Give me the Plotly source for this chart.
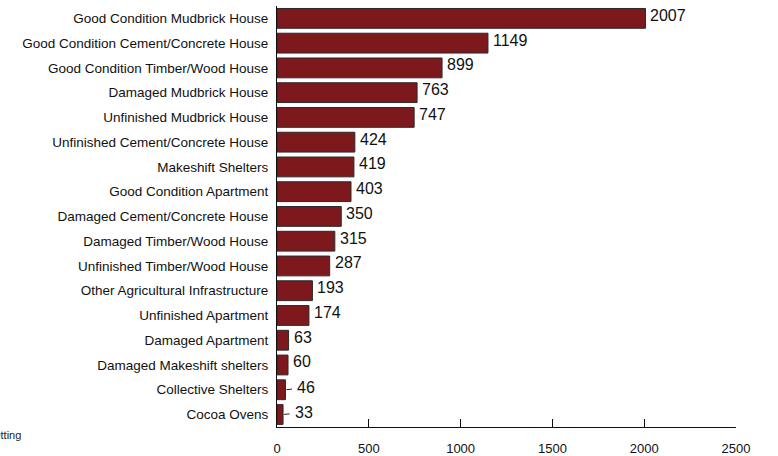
import plotly.graph_objects as go

categories = [
    "Good Condition Mudbrick House",
    "Good Condition Cement/Concrete House",
    "Good Condition Timber/Wood House",
    "Damaged Mudbrick House",
    "Unfinished Mudbrick House",
    "Unfinished Cement/Concrete House",
    "Makeshift Shelters",
    "Good Condition Apartment",
    "Damaged Cement/Concrete House",
    "Damaged Timber/Wood House",
    "Unfinished Timber/Wood House",
    "Other Agricultural Infrastructure",
    "Unfinished Apartment",
    "Damaged Apartment",
    "Damaged Makeshift shelters",
    "Collective Shelters",
    "Cocoa Ovens",
]
counts = [2007, 1149, 899, 763, 747, 424, 419, 403, 350, 315, 287, 193, 174, 63, 60, 46, 33]
x_ticks = [0, 500, 1000, 1500, 2000, 2500]

BAR_COLOR = "#7D191C"
FONT = "Liberation Sans, Arial, sans-serif"

fig = go.Figure(
    go.Bar(
        x=counts,
        y=categories,
        orientation="h",
        width=0.8,
        marker=dict(color=BAR_COLOR, line=dict(color="#2a2a2a", width=1)),
        hoverinfo="x+y",
    )
)

# value labels just past each bar end; the shortest bars get a small leader dash
annotations = []
for cat, val in zip(categories, counts):
    if val < 50:
        annotations.append(dict(
            x=val, y=cat, xref="x", yref="y", text=str(val),
            showarrow=True, arrowhead=0, arrowwidth=1, arrowcolor="#222",
            ax=21, ay=-2, startstandoff=4, standoff=1,
            font=dict(family=FONT, size=16, color="#111"),
        ))
    else:
        annotations.append(dict(
            x=val, y=cat, xref="x", yref="y", text=str(val),
            showarrow=False, xanchor="left", xshift=3, yshift=3,
            font=dict(family=FONT, size=16, color="#111"),
        ))

# footnote running off the left edge
annotations.append(dict(
    x=-0.553, y=0.0, xref="paper", yref="paper", text="Shelter setting",
    showarrow=False, xanchor="right", yanchor="top",
    font=dict(family=FONT, size=11, color="#222"),
))

fig.update_layout(
    width=778,
    height=456,
    margin=dict(l=277, r=42, t=6, b=29, autoexpand=False),
    paper_bgcolor="white",
    plot_bgcolor="white",
    showlegend=False,
    font=dict(family=FONT, size=13, color="#111"),
    annotations=annotations,
    xaxis=dict(
        range=[0, 2500],
        tickvals=x_ticks,
        ticktext=[str(t) for t in x_ticks],
        showgrid=False,
        zeroline=False,
        showline=True,
        linecolor="#111",
        linewidth=1,
        ticks="inside",
        ticklen=8,
        tickcolor="#111",
        tickfont=dict(family=FONT, size=13, color="#111"),
        ticklabelstandoff=9,
        automargin=False,
    ),
    yaxis=dict(
        autorange="reversed",
        showgrid=False,
        zeroline=False,
        showline=True,
        linecolor="#111",
        linewidth=1,
        ticks="",
        tickfont=dict(family=FONT, size=13.5, color="#111"),
        ticklabelstandoff=5,
        automargin=False,
    ),
    bargap=0.2,
)

fig.write_html("out.html")
